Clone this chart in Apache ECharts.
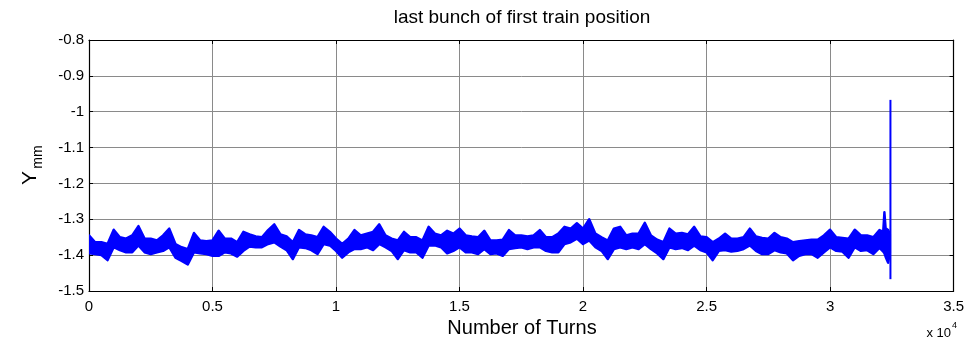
<!DOCTYPE html>
<html>
<head>
<meta charset="utf-8">
<script src="https://cdn.jsdelivr.net/npm/echarts@6/dist/echarts.min.js"></script>
<style>
  html, body { margin: 0; padding: 0; background: #ffffff; }
  #chart { width: 967px; height: 343px; }
</style>
</head>
<body>
<div id="chart"></div>
<script>
// Turn numbers at which the beam position envelope is sampled
const turns = [
  0, 250, 500, 750, 1000, 1250, 1500, 1750, 2000, 2250,
  2500, 2750, 3000, 3250, 3500, 3750, 4000, 4250, 4500, 4750,
  5000, 5250, 5500, 5750, 6000, 6250, 6500, 6750, 7000, 7250,
  7500, 7750, 8000, 8250, 8500, 8750, 9000, 9250, 9500, 9750,
  10000, 10250, 10500, 10750, 11000, 11250, 11500, 11750, 12000, 12250,
  12500, 12750, 13000, 13250, 13500, 13750, 14000, 14250, 14500, 14750,
  15000, 15250, 15500, 15750, 16000, 16250, 16500, 16750, 17000, 17250,
  17500, 17750, 18000, 18250, 18500, 18750, 19000, 19250, 19500, 19750,
  20000, 20250, 20500, 20750, 21000, 21250, 21500, 21750, 22000, 22250,
  22500, 22750, 23000, 23250, 23500, 23750, 24000, 24250, 24500, 24750,
  25000, 25250, 25500, 25750, 26000, 26250, 26500, 26750, 27000, 27250,
  27500, 27750, 28000, 28250, 28500, 28750, 29000, 29250, 29500, 29750,
  30000, 30250, 30500, 30750, 31000, 31250, 31500, 31750, 32000, 32150,
  32200, 32250, 32350, 32420
];

// Upper edge of the fast turn-by-turn oscillation (mm)
const yUpper = [
  -1.345, -1.364, -1.364, -1.369, -1.329, -1.350, -1.354, -1.345, -1.319, -1.354,
  -1.354, -1.359, -1.345, -1.326, -1.369, -1.378, -1.383, -1.338, -1.359, -1.361,
  -1.359, -1.332, -1.354, -1.354, -1.364, -1.335, -1.342, -1.348, -1.350, -1.330,
  -1.314, -1.342, -1.348, -1.364, -1.330, -1.342, -1.345, -1.350, -1.321, -1.335,
  -1.354, -1.369, -1.354, -1.330, -1.345, -1.340, -1.335, -1.314, -1.345, -1.354,
  -1.359, -1.335, -1.350, -1.350, -1.359, -1.321, -1.340, -1.345, -1.332, -1.340,
  -1.326, -1.345, -1.348, -1.350, -1.332, -1.359, -1.359, -1.357, -1.330, -1.345,
  -1.345, -1.348, -1.345, -1.330, -1.350, -1.350, -1.340, -1.321, -1.326, -1.311,
  -1.326, -1.300, -1.340, -1.350, -1.359, -1.326, -1.321, -1.345, -1.340, -1.340,
  -1.310, -1.345, -1.357, -1.364, -1.326, -1.340, -1.338, -1.342, -1.321, -1.348,
  -1.350, -1.364, -1.354, -1.340, -1.354, -1.354, -1.350, -1.326, -1.348, -1.352,
  -1.354, -1.338, -1.350, -1.354, -1.364, -1.361, -1.359, -1.357, -1.357, -1.345,
  -1.329, -1.350, -1.352, -1.354, -1.329, -1.345, -1.345, -1.350, -1.330, -1.335,
  -1.280, -1.325, -1.330, -1.340
];

// Lower edge of the fast turn-by-turn oscillation (mm)
const yLower = [
  -1.395, -1.397, -1.400, -1.414, -1.378, -1.386, -1.392, -1.392, -1.373, -1.392,
  -1.397, -1.392, -1.388, -1.378, -1.407, -1.416, -1.426, -1.392, -1.395, -1.397,
  -1.402, -1.402, -1.392, -1.395, -1.404, -1.388, -1.376, -1.378, -1.378, -1.369,
  -1.364, -1.376, -1.386, -1.411, -1.378, -1.380, -1.386, -1.397, -1.369, -1.373,
  -1.388, -1.407, -1.392, -1.383, -1.383, -1.378, -1.386, -1.369, -1.378, -1.388,
  -1.411, -1.386, -1.392, -1.392, -1.407, -1.373, -1.373, -1.378, -1.395, -1.388,
  -1.378, -1.392, -1.392, -1.397, -1.383, -1.397, -1.395, -1.402, -1.383, -1.380,
  -1.378, -1.383, -1.378, -1.378, -1.388, -1.392, -1.392, -1.369, -1.364, -1.354,
  -1.369, -1.359, -1.378, -1.388, -1.411, -1.383, -1.378, -1.383, -1.378, -1.383,
  -1.369, -1.383, -1.395, -1.411, -1.378, -1.383, -1.380, -1.386, -1.373, -1.386,
  -1.392, -1.414, -1.388, -1.386, -1.390, -1.388, -1.383, -1.373, -1.388, -1.397,
  -1.397, -1.386, -1.392, -1.395, -1.414, -1.402, -1.397, -1.397, -1.407, -1.392,
  -1.378, -1.388, -1.390, -1.407, -1.378, -1.388, -1.386, -1.397, -1.380, -1.390,
  -1.395, -1.405, -1.421, -1.395
];

// Final kick excursion just before the beam is dumped
const spikeTurns = [32444, 32444];
const spikeY = [-1.467, -0.967];

// Axis ranges and tick spacing
const xRange = [0, 35000];
const xStep = 5000;
const yRange = [-1.5, -0.8];
const yStep = 0.1;

const BLUE = '#0000ff';
const FONT = '"Liberation Sans", Arial, Helvetica, sans-serif';
const GRID = { left: 89, right: 11, top: 40, bottom: 52 };

const bandData = turns.map((t, i) => [t, yLower[i], yUpper[i]]);
const spikeData = spikeTurns.map((t, i) => [t, spikeY[i]]);

const axisBlack = { lineStyle: { color: '#000000', width: 1.2 } };
const innerTicks = { show: true, inside: true, length: 4, lineStyle: { color: '#000000', width: 1 } };
const gridLines = { show: true, lineStyle: { color: '#8a8a8a', width: 1 } };

const chart = echarts.init(document.getElementById('chart'), null, { renderer: 'canvas' });

chart.setOption({
  animation: false,
  backgroundColor: '#ffffff',
  grid: Object.assign({ containLabel: false }, GRID),
  xAxis: [
    {
      type: 'value', position: 'bottom',
      min: xRange[0], max: xRange[1], interval: xStep,
      axisLine: Object.assign({ show: true, onZero: false }, axisBlack),
      axisTick: innerTicks,
      splitLine: gridLines,
      axisLabel: {
        color: '#000000', fontSize: 15, fontFamily: FONT, margin: 8,
        showMinLabel: true, showMaxLabel: true,
        formatter: v => String(+(v / 10000).toFixed(2))
      }
    },
    {
      type: 'value', position: 'top',
      min: xRange[0], max: xRange[1], interval: xStep,
      axisLine: Object.assign({ show: true, onZero: false }, axisBlack),
      axisTick: innerTicks,
      splitLine: { show: false },
      axisLabel: { show: false }
    }
  ],
  yAxis: [
    {
      type: 'value', position: 'left',
      min: yRange[0], max: yRange[1], interval: yStep,
      axisLine: Object.assign({ show: true, onZero: false }, axisBlack),
      axisTick: innerTicks,
      splitLine: gridLines,
      axisLabel: {
        color: '#000000', fontSize: 15, fontFamily: FONT, margin: 5,
        showMinLabel: true, showMaxLabel: true,
        formatter: v => String(+v.toFixed(2))
      }
    },
    {
      type: 'value', position: 'right',
      min: yRange[0], max: yRange[1], interval: yStep,
      axisLine: Object.assign({ show: true, onZero: false }, axisBlack),
      axisTick: innerTicks,
      splitLine: { show: false },
      axisLabel: { show: false }
    }
  ],
  series: [
    {
      // Turn-by-turn oscillation band, filled between the two envelopes
      type: 'custom',
      xAxisIndex: 0, yAxisIndex: 0,
      data: bandData,
      encode: { x: 0, y: [1, 2] },
      clip: true,
      silent: true,
      renderItem: (params, api) => {
        if (params.dataIndex !== 0) return null;
        const upper = turns.map((t, i) => api.coord([t, yUpper[i]]));
        const lower = turns.map((t, i) => api.coord([t, yLower[i]])).reverse();
        return {
          type: 'polygon',
          shape: { points: upper.concat(lower) },
          style: { fill: BLUE, stroke: BLUE, lineWidth: 2.4, lineJoin: 'round' }
        };
      }
    },
    {
      type: 'line',
      xAxisIndex: 0, yAxisIndex: 0,
      data: spikeData,
      showSymbol: false,
      silent: true,
      lineStyle: { color: BLUE, width: 2 }
    }
  ],
  graphic: [
    {
      type: 'text', x: 522, y: 18,
      style: {
        text: 'last bunch of first train position',
        fill: '#000000', font: '19px ' + FONT,
        textAlign: 'center', textVerticalAlign: 'middle'
      }
    },
    {
      type: 'text', x: 522, y: 328,
      style: {
        text: 'Number of Turns',
        fill: '#000000', font: '20px ' + FONT,
        textAlign: 'center', textVerticalAlign: 'middle'
      }
    },
    {
      type: 'text', x: 30, y: 178, rotation: Math.PI / 2,
      style: {
        text: 'Y',
        fill: '#000000', font: '21px ' + FONT,
        textAlign: 'center', textVerticalAlign: 'middle'
      }
    },
    {
      type: 'text', x: 38, y: 157, rotation: Math.PI / 2,
      style: {
        text: 'mm',
        fill: '#000000', font: '14px ' + FONT,
        textAlign: 'center', textVerticalAlign: 'middle'
      }
    },
    {
      type: 'text', x: 951, y: 333,
      style: {
        text: 'x 10',
        fill: '#000000', font: '13px ' + FONT,
        textAlign: 'right', textVerticalAlign: 'middle'
      }
    },
    {
      type: 'text', x: 952, y: 326,
      style: {
        text: '4',
        fill: '#000000', font: '9px ' + FONT,
        textAlign: 'left', textVerticalAlign: 'middle'
      }
    }
  ]
});
</script>
</body>
</html>
